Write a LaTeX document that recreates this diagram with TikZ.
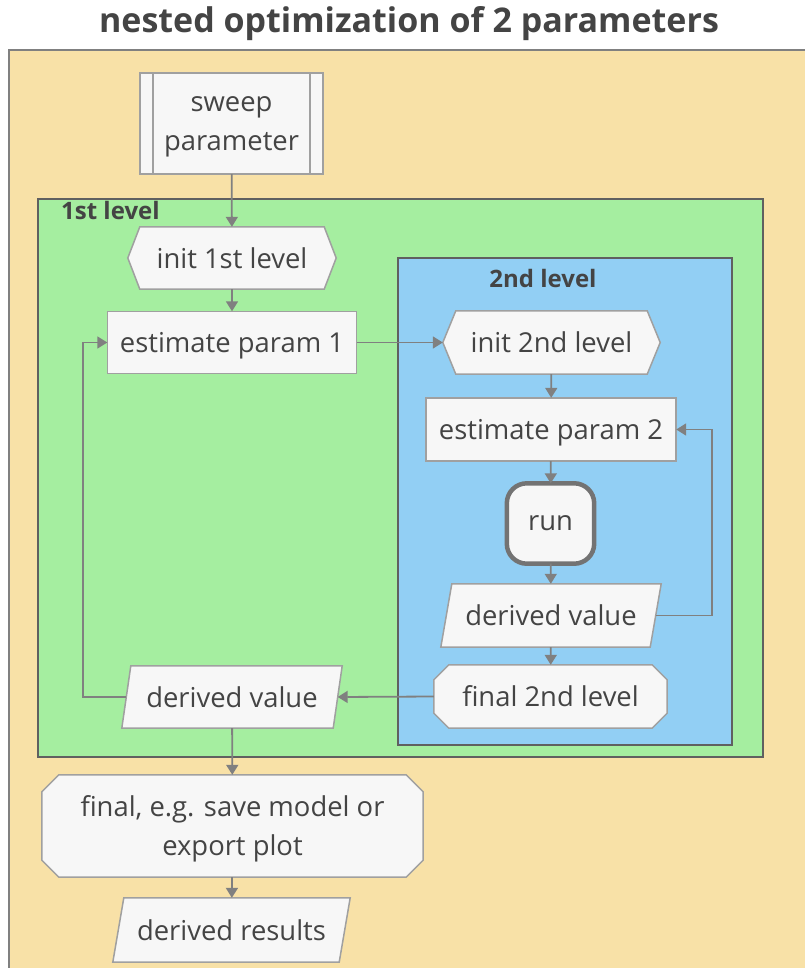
\documentclass[tikz,border=0pt]{standalone}
\usepackage{fontspec}
\setmainfont{Open Sans}
\usetikzlibrary{arrows.meta,positioning}

\definecolor{outerfill}{HTML}{F8E1A7}
\definecolor{firstfill}{HTML}{A5EEA0}
\definecolor{secondfill}{HTML}{92CFF4}
\definecolor{boxfill}{HTML}{F7F7F7}
\definecolor{boxline}{HTML}{A0A0A0}
\definecolor{frameline}{HTML}{606060}
\definecolor{flowline}{HTML}{808080}
\definecolor{inktext}{HTML}{444444}

\pgfdeclarelayer{frames}
\pgfdeclarelayer{outlines}
\pgfsetlayers{frames,outlines,main}

\tikzset{
  txt/.style={font=\fontsize{27.4}{39}\selectfont, text=inktext, align=center,
              inner sep=0pt, text depth=0pt, draw=none, fill=none},
  shp/.style={draw=boxline, fill=boxfill, line width=1.5pt},
  framebox/.style={draw=frameline, line width=2pt},
  lbl/.style={font=\bfseries\fontsize{24}{28}\selectfont, text=inktext, inner sep=0pt},
  flow/.style={draw=flowline, line width=1.8pt, -{Triangle[width=12pt,length=10pt]}},
}

% outline helpers, drawn around a named rectangle node
\newcommand{\hexoutline}[2]{%
  \path[shp] ([xshift=#2pt]#1.north west) -- ([xshift=-#2pt]#1.north east) -- (#1.east)
    -- ([xshift=-#2pt]#1.south east) -- ([xshift=#2pt]#1.south west) -- (#1.west) -- cycle;}
\newcommand{\octoutline}[2]{%
  \path[shp] ([xshift=#2pt]#1.north west) -- ([xshift=-#2pt]#1.north east)
    -- ([yshift=-#2pt]#1.north east) -- ([yshift=#2pt]#1.south east)
    -- ([xshift=-#2pt]#1.south east) -- ([xshift=#2pt]#1.south west)
    -- ([yshift=#2pt]#1.south west) -- ([yshift=-#2pt]#1.north west) -- cycle;}
\newcommand{\slantoutline}[2]{%
  \path[shp] (#1.south west) -- ([xshift=-#2pt]#1.south east) -- (#1.north east)
    -- ([xshift=#2pt]#1.north west) -- cycle;}
\newcommand{\rectoutline}[1]{%
  \path[shp] (#1.south west) rectangle (#1.north east);}

\begin{document}
\begin{tikzpicture}[x=1pt,y=-1pt]
\useasboundingbox (0,0) rectangle (805,968);

% title
\node[font=\bfseries\fontsize{34}{40}\selectfont, text=inktext, inner sep=0pt]
  (title) at (409,24) {nested optimization of 2 parameters};

% nested frames
\begin{pgfonlayer}{frames}
  \fill[outerfill] (9,50) rectangle (805,968);
  \draw[draw=boxline!80!black, line width=2pt] (9,968) -- (9,50) -- (805,50);
  \path[framebox, fill=firstfill] (38,199) rectangle (763,757);
  \path[framebox, fill=secondfill] (398,258) rectangle (732,745);
\end{pgfonlayer}
\node[lbl, anchor=west] (lvlone) at (61,211) {1st level};
\node[lbl] (lvltwo) at (543,278) {2nd level};

% nodes (text), sized to their outlines
\node[txt, minimum width=183, minimum height=101] (sweep) at (231.5,123.5) {sweep\\parameter};
\node[txt, minimum width=208, minimum height=62] (initone) at (232,258) {init 1st level};
\node[txt, minimum width=249, minimum height=62] (estone) at (232,342.5) {estimate param 1};
\node[txt, minimum width=217, minimum height=63] (inittwo) at (551.5,342.5) {init 2nd level};
\node[txt, minimum width=250, minimum height=63] (esttwo) at (551,429.5) {estimate param 2};
\node[txt, minimum width=87, minimum height=80] (run) at (550.5,523.5) {run};
\node[txt, minimum width=220, minimum height=63] (dvtwo) at (551,615.5) {derived value};
\node[txt, minimum width=233, minimum height=63] (fintwo) at (550.5,696.5) {final 2nd level};
\node[txt, minimum width=220, minimum height=62] (dvone) at (232,697) {derived value};
\node[txt, minimum width=381, minimum height=102] (finone) at (232.5,826) {final, e.g. save model or\\export plot};
\node[txt, minimum width=237, minimum height=64] (results) at (231.5,930) {derived results};

% outlines
\begin{pgfonlayer}{outlines}
  \rectoutline{sweep}
  \draw[boxline, line width=1.5pt] ([xshift=13pt]sweep.north west) -- ([xshift=13pt]sweep.south west);
  \draw[boxline, line width=1.5pt] ([xshift=-13pt]sweep.north east) -- ([xshift=-13pt]sweep.south east);
  \hexoutline{initone}{12}
  \rectoutline{estone}
  \hexoutline{inittwo}{13}
  \rectoutline{esttwo}
  \path[draw=flowline!90!black, fill=boxfill, line width=4.5pt, rounded corners=20pt]
    (run.south west) rectangle (run.north east);
  \slantoutline{dvtwo}{11}
  \octoutline{fintwo}{15}
  \slantoutline{dvone}{9}
  \octoutline{finone}{17}
  \slantoutline{results}{11}
\end{pgfonlayer}

% loop turning points
\coordinate (dvtwoout) at ([xshift=-5.5pt]dvtwo.east);
\coordinate (dvoneout) at ([xshift=4.5pt]dvone.west);
\coordinate (rightturn) at (712,0);
\coordinate (leftturn) at (83,0);

% connectors
\draw[flow] (sweep) -- (initone);
\draw[flow] (initone) -- (estone);
\draw[flow] (estone) -- (inittwo);
\draw[flow] (inittwo) -- (esttwo);
\draw[flow] (esttwo) -- (run);
\draw[flow] (run) -- (dvtwo);
\draw[flow] (dvtwo) -- (fintwo);
\draw[flow] (dvtwoout) -- (rightturn |- dvtwoout) -- (rightturn |- esttwo.east) -- (esttwo.east);
\draw[flow] (fintwo.west) -- ([xshift=-4.5pt]dvone.east);
\draw[flow] (dvoneout) -- (leftturn |- dvoneout) -- (leftturn |- estone.west) -- (estone.west);
\draw[flow] (dvone) -- (finone);
\draw[flow] (finone) -- (results);
\end{tikzpicture}
\end{document}
